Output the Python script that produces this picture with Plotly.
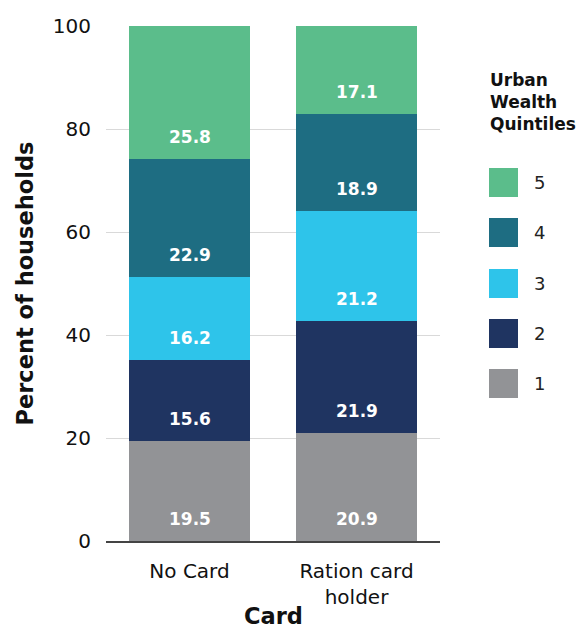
import plotly.graph_objects as go

# Household shares by urban wealth quintile, per ration-card status
cards = ["No Card", "Ration card<br>holder"]
quintiles = ["1", "2", "3", "4", "5"]
q1 = [19.5, 20.9]
q2 = [15.6, 21.9]
q3 = [16.2, 21.2]
q4 = [22.9, 18.9]
q5 = [25.8, 17.1]
series = [q1, q2, q3, q4, q5]
colors = ["#929396", "#1F3461", "#2EC4EA", "#1E6D82", "#5BBD8B"]
y_ticks = [0, 20, 40, 60, 80, 100]

FONT = "DejaVu Sans"
W, H = 582, 630
M = dict(l=106, r=142, t=26, b=89)

fig = go.Figure()
base = [0.0] * len(cards)
for name, vals, col in zip(quintiles, series, colors):
    fig.add_trace(go.Bar(
        x=cards, y=vals, name=name,
        marker=dict(color=col, line=dict(width=0)),
        showlegend=False,
    ))
    # value label sitting just above the base of each segment
    for i, (c, v) in enumerate(zip(cards, vals)):
        fig.add_annotation(
            x=c, y=base[i], xref="x", yref="y", yshift=22,
            text=f"<b>{v:.1f}</b>", showarrow=False,
            xanchor="center", yanchor="middle",
            font=dict(family=FONT, size=17, color="white"),
        )
        base[i] += v

fig.update_layout(
    barmode="stack", bargap=0.275,
    width=W, height=H, margin=M,
    paper_bgcolor="white", plot_bgcolor="white",
    font=dict(family=FONT, color="#111111"),
)
fig.update_yaxes(
    range=[0, 100], tickvals=y_ticks, ticks="",
    showgrid=True, gridcolor="#D9D9D9", gridwidth=1.3, zeroline=False,
    tickfont=dict(size=20, color="#111111"), ticklabelstandoff=14,
    automargin=False,
)
fig.update_xaxes(
    showline=True, linecolor="#444444", linewidth=1.5, ticks="",
    tickfont=dict(size=20, color="#111111"), ticklabelstandoff=11,
    automargin=False,
)

# Pixel-to-paper helpers for the text and legend placed outside the plot area
pw = W - M["l"] - M["r"]
ph = H - M["t"] - M["b"]
def px(x):
    return (x - M["l"]) / pw
def py(y):
    return (H - M["b"] - y) / ph

# Axis titles
fig.add_annotation(
    x=0.5, y=py(616), xref="paper", yref="paper",
    xanchor="center", yanchor="middle", showarrow=False,
    text="<b>Card</b>", font=dict(size=22.5, color="#111111"),
)
fig.add_annotation(
    x=px(24), y=0.5, xref="paper", yref="paper", textangle=-90,
    xanchor="center", yanchor="middle", showarrow=False,
    text="<b>Percent of households</b>", font=dict(size=22.5, color="#111111"),
)

# Legend block
fig.add_annotation(
    x=px(488), y=py(68), xref="paper", yref="paper",
    xanchor="left", yanchor="top", align="left", showarrow=False,
    text="<b>Urban<br>Wealth<br>Quintiles</b>",
    font=dict(size=17, color="#111111"),
)
legend_top = [168, 218, 269, 319, 369]
for top, name, col in zip(legend_top, quintiles[::-1], colors[::-1]):
    fig.add_shape(
        type="rect", xref="paper", yref="paper",
        x0=px(489), x1=px(518), y0=py(top + 29), y1=py(top),
        fillcolor=col, line=dict(width=0),
    )
    fig.add_annotation(
        x=px(532), y=py(top + 14.5), xref="paper", yref="paper",
        xanchor="left", yanchor="middle", showarrow=False,
        text=name, font=dict(size=18, color="#222222"),
    )

fig.write_html("out.html")
